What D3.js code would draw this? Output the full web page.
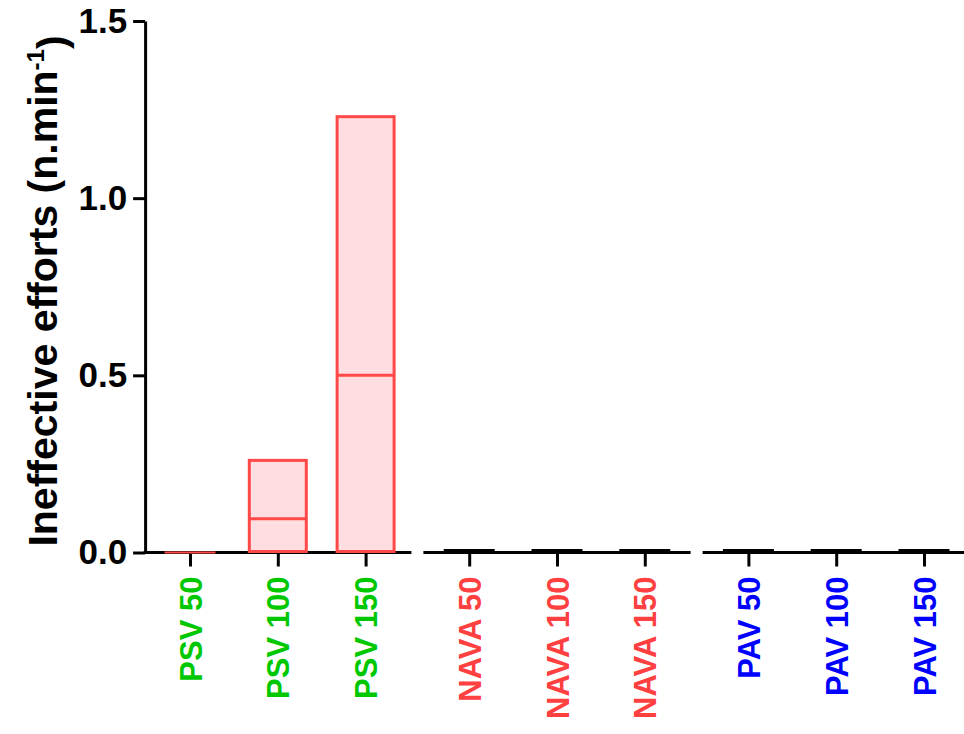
<!DOCTYPE html>
<html lang="en">
<head>
  <meta charset="UTF-8" />
  <script src="https://d3js.org/d3.v7.min.js"></script>
  <title>Ineffective efforts</title>
  <style>
    body { margin: 0; background: #fff; }
    text { font-family: "Liberation Sans", Arial, sans-serif; font-weight: bold; }
  </style>
</head>
<body>
<script type="text/javascript">
// data
var categories = ["PSV 50", "PSV 100", "PSV 150", "NAVA 50", "NAVA 100", "NAVA 150", "PAV 50", "PAV 100", "PAV 150"];
var groupOf = [0, 0, 0, 1, 1, 1, 2, 2, 2];
var groups = ["PSV", "NAVA", "PAV"];
var boxMin = [0, 0, 0, 0, 0, 0, 0, 0, 0];
var boxMedian = [0, 0.095, 0.5, 0, 0, 0, 0, 0, 0];
var boxMax = [0, 0.26, 1.23, 0, 0, 0, 0, 0, 0];
var yTicks = [0, 0.5, 1.0, 1.5];

var labelColor = ["#00c800", "#ff4040", "#0000ff"];
var boxStroke = ["#ff4848", "#000", "#000"];

var width = 964, height = 734;
var svg = d3.select("body").append("svg").attr("width", width).attr("height", height);

var gap = 0.18;
var pos = categories.map(function(d, i){ return i + groupOf[i]*gap; });
var x = d3.scaleLinear().domain([0, pos[pos.length-1]]).range([190, 924]);
var y = d3.scaleLinear().domain([0, 1.5]).range([552.5, 21]);

// y axis
var yAxis = svg.append("g")
    .attr("transform", "translate(" + (x(-0.5) - 1) + ",0)")
    .call(d3.axisLeft(y).tickValues(yTicks).tickFormat(d3.format(".1f")).tickSize(12).tickSizeOuter(0).tickPadding(6));
yAxis.select(".domain").attr("stroke-width", 3);
yAxis.selectAll(".tick line").attr("stroke-width", 3);
yAxis.selectAll(".tick text").style("font-size", "35px").attr("fill", "#000");

// x axis: three broken segments
var xAxis = svg.append("g")
    .attr("transform", "translate(0," + y(0) + ")")
    .call(d3.axisBottom(x).tickValues(pos).tickFormat(function(d, i){ return categories[i]; }).tickSize(14).tickSizeOuter(0));
xAxis.select(".domain").remove();
xAxis.selectAll(".tick line").attr("stroke-width", 3).attr("y1", 1);
xAxis.selectAll(".tick text")
    .attr("transform", "rotate(-90)")
    .attr("x", -24).attr("y", 0).attr("dy", "0.36em")
    .style("text-anchor", "end")
    .style("font-size", "31px")
    .attr("fill", function(d, i){ return labelColor[groupOf[i]]; });

groups.forEach(function(g, gi){
  var idx = groupOf.map(function(v, i){ return v === gi ? i : -1; }).filter(function(i){ return i >= 0; });
  var first = idx[0], last = idx[idx.length-1];
  var x0 = gi === 0 ? x(-0.5) - 2.5 : (x(pos[first-1]) + x(pos[first]))/2 + 6;
  var x1 = gi === groups.length-1 ? x(pos[last] + 0.5) : (x(pos[last]) + x(pos[last+1]))/2 - 6;
  svg.append("line").attr("x1", x0).attr("x2", x1).attr("y1", y(0)).attr("y2", y(0))
    .attr("stroke", "#000").attr("stroke-width", 3);
});

// boxes
var boxW = 57, flatW = 51;
categories.forEach(function(c, i){
  var cx = x(pos[i]);
  var col = boxStroke[groupOf[i]];
  if (boxMax[i] > boxMin[i]) {
    svg.append("rect")
      .attr("x", cx - boxW/2).attr("width", boxW)
      .attr("y", y(boxMax[i])).attr("height", y(boxMin[i]) - y(boxMax[i]) - 1)
      .attr("fill", "#ffdde0").attr("stroke", col).attr("stroke-width", 3);
    svg.append("line")
      .attr("x1", cx - boxW/2).attr("x2", cx + boxW/2)
      .attr("y1", y(boxMedian[i])).attr("y2", y(boxMedian[i]))
      .attr("stroke", col).attr("stroke-width", 3);
  } else {
    var off = groupOf[i] === 0 ? 0 : 2;
    svg.append("line")
      .attr("x1", cx - flatW/2).attr("x2", cx + flatW/2)
      .attr("y1", y(boxMin[i]) - off).attr("y2", y(boxMin[i]) - off)
      .attr("stroke", col).attr("stroke-width", groupOf[i] === 0 ? 2 : 3);
  }
});

// y title
var title = svg.append("text")
    .attr("transform", "translate(57,291) rotate(-90)")
    .attr("text-anchor", "middle")
    .style("font-size", "41px")
    .attr("fill", "#000");
title.append("tspan").text("Ineffective efforts (n.min");
title.append("tspan").text("-1").attr("dy", "-0.55em").style("font-size", "24px");
title.append("tspan").text(")").attr("dy", "0.55em");
</script>
</body>
</html>
